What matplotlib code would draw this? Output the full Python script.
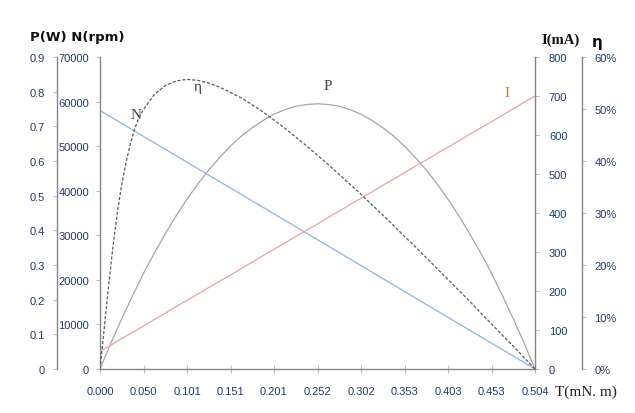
import numpy as np
import matplotlib
matplotlib.use("Agg")
import matplotlib.pyplot as plt
from matplotlib.ticker import FixedLocator, FuncFormatter

# torque T (mN.m) and curves
T = [0.0, 0.0126, 0.0252, 0.0378, 0.0504, 0.063, 0.0756, 0.0882, 0.1008, 0.1134,
     0.126, 0.1386, 0.1512, 0.1638, 0.1764, 0.189, 0.2016, 0.2142, 0.2268, 0.2394,
     0.252, 0.2646, 0.2772, 0.2898, 0.3024, 0.315, 0.3276, 0.3402, 0.3528, 0.3654,
     0.378, 0.3906, 0.4032, 0.4158, 0.4284, 0.441, 0.4536, 0.4662, 0.4788, 0.4914, 0.504]
N_rpm = [58000, 56550, 55100, 53650, 52200, 50750, 49300, 47850, 46400, 44950,
         43500, 42050, 40600, 39150, 37700, 36250, 34800, 33350, 31900, 30450,
         29000, 27550, 26100, 24650, 23200, 21750, 20300, 18850, 17400, 15950,
         14500, 13050, 11600, 10150, 8700, 7250, 5800, 4350, 2900, 1450, 0]
I_mA = [45, 61, 78, 94, 110, 127, 143, 160, 176, 192,
        209, 225, 241, 258, 274, 291, 307, 323, 340, 356,
        372, 389, 405, 422, 438, 454, 471, 487, 503, 520,
        536, 553, 569, 585, 602, 618, 634, 651, 667, 684, 700]
P_W = [0.0, 0.075, 0.145, 0.212, 0.276, 0.335, 0.390, 0.442, 0.490, 0.534,
       0.574, 0.610, 0.643, 0.672, 0.696, 0.717, 0.735, 0.748, 0.758, 0.763,
       0.765, 0.763, 0.758, 0.748, 0.735, 0.717, 0.696, 0.672, 0.643, 0.610,
       0.574, 0.534, 0.490, 0.442, 0.390, 0.335, 0.276, 0.212, 0.145, 0.075, 0.0]

T_eff = [0.0, 0.0025, 0.005, 0.01, 0.015, 0.02, 0.025, 0.03, 0.035, 0.04, 0.045,
         0.0504, 0.063, 0.0756, 0.0882, 0.1008, 0.1134, 0.126, 0.1386, 0.1512, 0.1638,
         0.1764, 0.189, 0.2016, 0.2142, 0.2268, 0.2394, 0.252, 0.2646, 0.2772, 0.2898,
         0.3024, 0.315, 0.3276, 0.3402, 0.3528, 0.3654, 0.378, 0.3906, 0.4032, 0.4158,
         0.4284, 0.441, 0.4536, 0.4662, 0.4788, 0.4914, 0.504]
eff_pct = [0, 4.0, 8.0, 16.0, 23.5, 30.0, 35.3, 39.6, 43.2, 46.1, 48.3,
           49.9, 52.8, 54.5, 55.4, 55.7, 55.5, 55.0, 54.2, 53.2, 52.1,
           50.8, 49.4, 47.9, 46.3, 44.6, 42.9, 41.1, 39.3, 37.4, 35.5,
           33.6, 31.6, 29.6, 27.6, 25.5, 23.5, 21.4, 19.3, 17.2, 15.1,
           13.0, 10.8, 8.7, 6.5, 4.4, 2.2, 0]

x_ticks = [0.0, 0.0504, 0.1008, 0.1512, 0.2016, 0.252, 0.3024, 0.3528, 0.4032, 0.4536, 0.504]
x_labels = ["0.000", "0.050", "0.101", "0.151", "0.201", "0.252", "0.302", "0.353", "0.403", "0.453", "0.504"]

tick_color = "#233a6a"
spine_color = "#868686"
plt.rcParams["font.family"] = ["Liberation Sans", "DejaVu Sans"]

fig = plt.figure(figsize=(6.35, 4.14), dpi=100)
ax = fig.add_axes([100 / 635, 44 / 414, 435 / 635, 312 / 414])
axP = ax.twinx()
axI = ax.twinx()
axE = ax.twinx()

ax.plot(T, N_rpm, color="#8fb3e3", lw=0.9)
axI.plot(T, I_mA, color="#e8a3a3", lw=0.9)
axP.plot(T, P_W, color="#a6a6a6", lw=0.9)
axE.plot(T_eff, eff_pct, color="#5a5a5a", lw=0.9, dashes=(2.5, 1.5))

ax.set_xlim(0, 0.504)
ax.set_ylim(0, 70000)
axP.set_ylim(0, 0.9)
axI.set_ylim(0, 800)
axE.set_ylim(0, 60)

ax.xaxis.set_major_locator(FixedLocator(x_ticks))
ax.set_xticklabels(x_labels)
ax.set_yticks(np.arange(0, 70001, 10000))
axP.set_yticks(np.arange(0, 0.91, 0.1))
axP.yaxis.set_major_formatter(FuncFormatter(lambda v, p: "0" if abs(v) < 1e-9 else f"{v:.1f}"))
axI.set_yticks(np.arange(0, 801, 100))
axE.set_yticks(np.arange(0, 61, 10))
axE.yaxis.set_major_formatter(FuncFormatter(lambda v, p: f"{v:.0f}%"))

# P axis on the far left
axP.yaxis.tick_left()
axP.spines["left"].set_position(("axes", -43 / 435))
# efficiency axis on the far right
axE.spines["right"].set_position(("axes", 482 / 435))

for a in (ax, axP, axI, axE):
    for s in a.spines.values():
        s.set_visible(False)
    a.tick_params(colors="#bfbfbf", labelcolor=tick_color, labelsize=8, width=0.8, length=3)

for a, side in ((ax, "left"), (ax, "bottom"), (axP, "left"), (axI, "right"), (axE, "right")):
    a.spines[side].set_visible(True)
    a.spines[side].set_color(spine_color)
    a.spines[side].set_linewidth(1.0)

ax.tick_params(axis="y", pad=5)
ax.tick_params(axis="x", direction="inout", length=6, pad=9)
axP.tick_params(axis="y", pad=6)
axI.tick_params(axis="y", pad=7)
axE.tick_params(axis="y", pad=6)

# axis titles
ax.text(-70 / 435, 1.067, "P(W) N(rpm)", transform=ax.transAxes, fontsize=9.5,
        fontweight="bold", color="#111111", ha="left", va="center", family="DejaVu Sans")
ax.text(1.06, 1.058, "I(mA)", transform=ax.transAxes, fontsize=10.5, fontweight="bold",
        color="#111111", ha="center", va="center", family="Liberation Serif")
ax.text(1.1425, 1.051, "η", transform=ax.transAxes, fontsize=11, fontweight="bold",
        color="#111111", ha="center", va="center", family="DejaVu Sans")
ax.text(1.117, -0.0705, "T(mN. m)", transform=ax.transAxes, fontsize=11,
        color="#222222", ha="center", va="center", family="Liberation Serif")

# curve labels
ax.text(0.0828, 0.817, "N", transform=ax.transAxes, fontsize=11, color="#4a4038",
        ha="center", va="center", family="Liberation Serif")
ax.text(0.2253, 0.904, "η", transform=ax.transAxes, fontsize=11, color="#4a4038",
        ha="center", va="center", family="Liberation Serif")
ax.text(0.524, 0.91, "P", transform=ax.transAxes, fontsize=11, color="#4a4038",
        ha="center", va="center", family="Liberation Serif")
ax.text(0.9356, 0.885, "I", transform=ax.transAxes, fontsize=11, color="#c0783a",
        ha="center", va="center", family="Liberation Serif")

fig.savefig("out.png", dpi=100)
